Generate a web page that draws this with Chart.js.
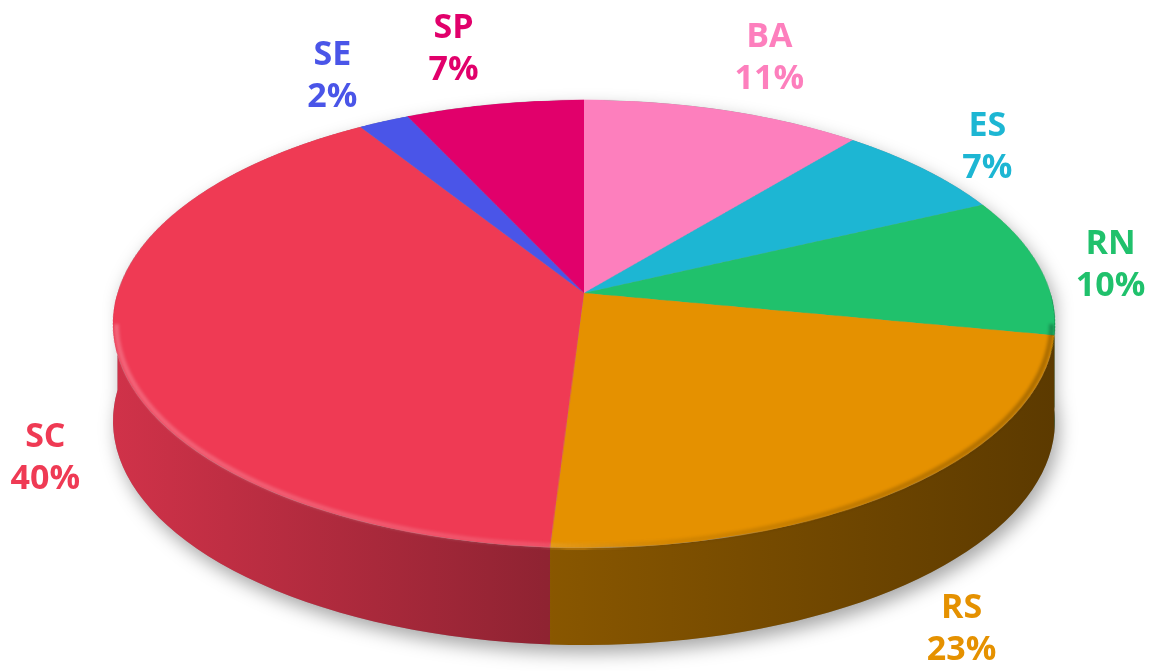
<!DOCTYPE html>
<html>
<head>
<meta charset="utf-8">
<script src="https://cdn.jsdelivr.net/npm/chart.js@4.4.0/dist/chart.umd.min.js"></script>
<style>
    html, body { margin: 0; background: #fff; }
</style>
</head>
<body>
<canvas id="grafico" width="1160" height="671"></canvas>
<script>
// ==== Dados ====
const estados = ['BA', 'ES', 'RN', 'RS', 'SC', 'SE', 'SP'];
const percentuais = [11, 7, 10, 23, 40, 2, 7];
const cores = ['#fd7fbd', '#1db6d3', '#20c16c', '#e59100', '#ef3a54', '#4a55e8', '#e1006b'];

// ==== Aparencia 3D (perspectiva) ====
const TOPO = 100;         // borda de tras da pizza na tela
const BASE = 548;         // borda da frente
const APICE = 293;        // centro da pizza na tela
const RAIO = 471;         // meia largura
const PROFUNDIDADE = 97;  // espessura
const ACHATA_FONTE = 0.66;

// projecao: y = (A + B w) / (1 + C w), x = cx + K u / (1 + C w)
const C = (TOPO + BASE - 2 * APICE) / (TOPO - BASE);
const B = APICE - TOPO + TOPO * C;
const A = APICE;
const K = RAIO * Math.sqrt(1 - C * C);

function borda(cx, ang, f = 1) {
    const u = Math.cos(ang) * f, w = Math.sin(ang) * f;
    const d = 1 + C * w;
    return { x: cx + K * u / d, y: (A + B * w) / d };
}

function escurecer(hex, f) {
    const n = parseInt(hex.slice(1), 16);
    const r = Math.round(((n >> 16) & 255) * f);
    const g = Math.round(((n >> 8) & 255) * f);
    const b = Math.round((n & 255) * f);
    return `rgb(${r}, ${g}, ${b})`;
}

const pizza3d = {
    id: 'pizza3d',
    beforeDatasetsDraw(chart) {
        // a biblioteca desenha a pizza achatada; depois ela e projetada
        const ctx = chart.ctx;
        const y0 = chart.getDatasetMeta(0).data[0].y;
        ctx.save();
        ctx.translate(0, y0);
        ctx.scale(1, ACHATA_FONTE);
        ctx.translate(0, -y0);
    },
    afterDatasetsDraw(chart) {
        const ctx = chart.ctx;
        ctx.restore();

        const canvas = chart.canvas;
        const arcs = chart.getDatasetMeta(0).data;
        const { x: cx, y: y0, outerRadius: r } = arcs[0];

        const copia = document.createElement('canvas');
        copia.width = canvas.width;
        copia.height = canvas.height;
        copia.getContext('2d').drawImage(canvas, 0, 0);
        ctx.clearRect(0, 0, canvas.width, canvas.height);

        // sombra
        ctx.save();
        ctx.shadowColor = 'rgba(0, 0, 0, 0.35)';
        ctx.shadowBlur = 18;
        ctx.shadowOffsetX = 4;
        ctx.shadowOffsetY = 8;
        ctx.fillStyle = '#999';
        ctx.beginPath();
        for (let t = 0; t <= 60; t++) {
            const p = borda(cx, Math.PI + Math.PI * t / 60);
            t === 0 ? ctx.moveTo(p.x, p.y) : ctx.lineTo(p.x, p.y);
        }
        for (let t = 0; t <= 60; t++) {
            const p = borda(cx, Math.PI * t / 60);
            ctx.lineTo(p.x, p.y + PROFUNDIDADE);
        }
        ctx.closePath();
        ctx.fill();
        ctx.restore();

        // lados
        arcs.forEach((arc, i) => {
            const a = Math.max(arc.startAngle, 0);
            const b = Math.min(arc.endAngle, Math.PI);
            if (b <= a) return;
            const grad = ctx.createLinearGradient(cx - RAIO, 0, cx + RAIO, 0);
            grad.addColorStop(0, escurecer(cores[i], 0.87));
            grad.addColorStop(0.46, escurecer(cores[i], 0.6));
            grad.addColorStop(1, escurecer(cores[i], 0.4));
            ctx.fillStyle = grad;
            ctx.beginPath();
            const n = 40;
            for (let t = 0; t <= n; t++) {
                const p = borda(cx, a + (b - a) * t / n);
                t === 0 ? ctx.moveTo(p.x, p.y) : ctx.lineTo(p.x, p.y);
            }
            for (let t = n; t >= 0; t--) {
                const p = borda(cx, a + (b - a) * t / n);
                ctx.lineTo(p.x, p.y + PROFUNDIDADE);
            }
            ctx.closePath();
            ctx.fill();
        });

        // topo projetado linha por linha
        const W = canvas.width;
        for (let y = TOPO - 1; y <= BASE + 1; y++) {
            const yc = y + 0.5;
            let w = (yc - A) / (B - C * yc);
            w = Math.max(-1, Math.min(1, w));
            const sy = y0 + r * ACHATA_FONTE * w;
            const dwdy = (B - C * A) / Math.pow(B - C * yc, 2);
            const sh = Math.max(r * ACHATA_FONTE * dwdy, 0.5);
            const esc = (K / (1 + C * w)) / r;
            ctx.drawImage(copia, 0, sy - sh / 2, W, sh, cx - cx * esc, y, W * esc, 1);
        }

        // chanfro na borda da frente
        ctx.save();
        const gb = ctx.createLinearGradient(cx - RAIO, 0, cx + RAIO, 0);
        gb.addColorStop(0, 'rgba(255, 255, 255, 0.22)');
        gb.addColorStop(0.45, 'rgba(255, 255, 255, 0.12)');
        gb.addColorStop(0.6, 'rgba(0, 0, 0, 0.08)');
        gb.addColorStop(1, 'rgba(0, 0, 0, 0.25)');
        ctx.strokeStyle = gb;
        ctx.lineWidth = 5;
        ctx.filter = 'blur(1.5px)';
        ctx.beginPath();
        for (let t = 0; t <= 80; t++) {
            const p = borda(cx, 0.14 + (Math.PI - 0.28) * t / 80, 0.993);
            t === 0 ? ctx.moveTo(p.x, p.y) : ctx.lineTo(p.x, p.y);
        }
        ctx.stroke();
        ctx.restore();

        // rotulos
        ctx.save();
        ctx.font = 'bold 34px "Open Sans"';
        ctx.textAlign = 'center';
        ctx.textBaseline = 'middle';
        arcs.forEach((arc, i) => {
            const meio = (arc.startAngle + arc.endAngle) / 2;
            const u = Math.cos(meio), w = Math.sin(meio);
            const p = borda(cx, meio);
            const px = p.x + 32 * Math.sign(u) + 40 * u;
            const py = p.y + (w > 0 ? PROFUNDIDADE + 8 : 0) + 58 * w * Math.abs(w);
            ctx.fillStyle = cores[i];
            ctx.fillText(estados[i], px, py - 21);
            ctx.fillText(percentuais[i] + '%', px, py + 21);
        });
        ctx.restore();
    }
};

const ctx = document.getElementById('grafico').getContext('2d');
const grafico = new Chart(ctx, {
    type: 'pie',
    data: {
        labels: estados,
        datasets: [{
            data: percentuais,
            backgroundColor: cores,
            borderWidth: 0,
            clip: false,
        }]
    },
    options: {
        responsive: false,
        animation: false,
        events: [],
        radius: RAIO,
        layout: { padding: { left: 8 } },
        plugins: {
            legend: { display: false },
            tooltip: { enabled: false }
        }
    },
    plugins: [pizza3d]
});
</script>
</body>
</html>
